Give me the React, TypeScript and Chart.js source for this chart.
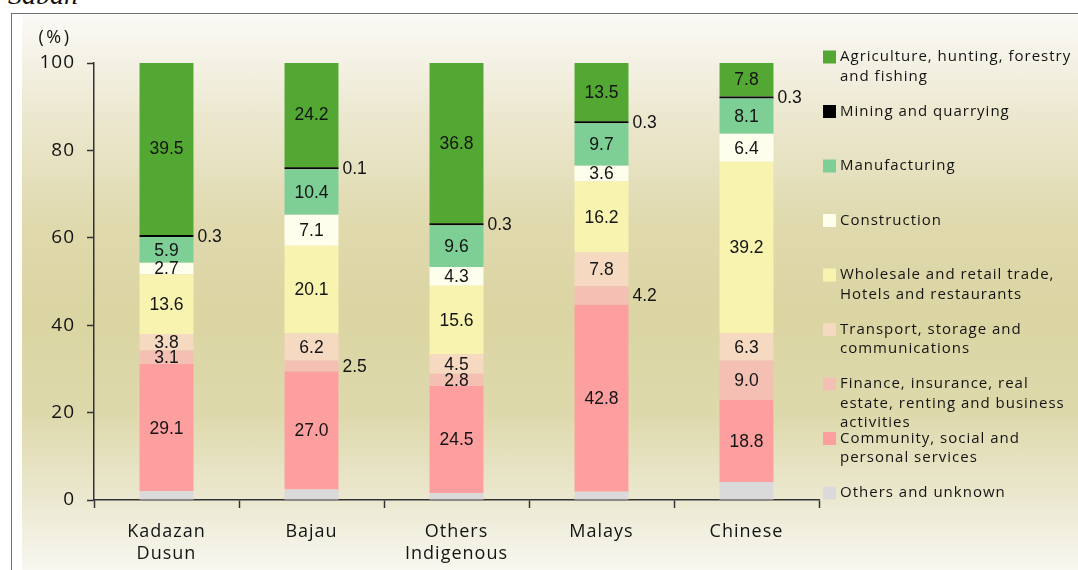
import React, { useEffect, useRef } from "react";
import { Chart, registerables } from "chart.js";

Chart.register(...registerables);

// Ethnic groups along the x axis (multi-line labels)
const groups: string[][] = [
  ["Kadazan", "Dusun"],
  ["Bajau"],
  ["Others", "Indigenous"],
  ["Malays"],
  ["Chinese"],
];

// Share of employment (%) by industry, stacked from the bottom up
const othersUnknown = [2.0, 2.4, 1.6, 1.9, 4.1];
const community = [29.1, 27.0, 24.5, 42.8, 18.8];
const finance = [3.1, 2.5, 2.8, 4.2, 9.0];
const transport = [3.8, 6.2, 4.5, 7.8, 6.3];
const wholesale = [13.6, 20.1, 15.6, 16.2, 39.2];
const construction = [2.7, 7.1, 4.3, 3.6, 6.4];
const manufacturing = [5.9, 10.4, 9.6, 9.7, 8.1];
const mining = [0.3, 0.1, 0.3, 0.3, 0.3];
const agriculture = [39.5, 24.2, 36.8, 13.5, 7.8];

const yTicks = [0, 20, 40, 60, 80, 100];

type LabelMode = "inside" | "outside" | "none";

interface Sector {
  lines: string[];
  values: number[];
  color: string;
  labels: LabelMode[];
}

const IN: LabelMode = "inside";
const OUT: LabelMode = "outside";
const NONE: LabelMode = "none";

const sectors: Sector[] = [
  { lines: ["Others and unknown"], values: othersUnknown, color: "#dadada", labels: [NONE, NONE, NONE, NONE, NONE] },
  { lines: ["Community, social and", "personal services"], values: community, color: "#fd9f9f", labels: [IN, IN, IN, IN, IN] },
  { lines: ["Finance, insurance, real", "estate, renting and business", "activities"], values: finance, color: "#f3c0b3", labels: [IN, OUT, IN, OUT, IN] },
  { lines: ["Transport, storage and", "communications"], values: transport, color: "#f6d9c1", labels: [IN, IN, IN, IN, IN] },
  { lines: ["Wholesale and retail trade,", "Hotels and restaurants"], values: wholesale, color: "#f8f4b0", labels: [IN, IN, IN, IN, IN] },
  { lines: ["Construction"], values: construction, color: "#fefeec", labels: [IN, IN, IN, IN, IN] },
  { lines: ["Manufacturing"], values: manufacturing, color: "#7dcf96", labels: [IN, IN, IN, IN, IN] },
  { lines: ["Mining and quarrying"], values: mining, color: "#000000", labels: [OUT, OUT, OUT, OUT, OUT] },
  { lines: ["Agriculture, hunting, forestry", "and fishing"], values: agriculture, color: "#52a832", labels: [IN, IN, IN, IN, IN] },
];

const UI_FONT = '"Open Sans", "Noto Sans", sans-serif';
const VALUE_FONT = '"Liberation Sans", Arial, sans-serif';
const TEXT_COLOR = "#141414";

// Text spacing used by the axis labels
const spacingPlugin = {
  id: "letterSpacing",
  beforeUpdate(chart: any) {
    chart.ctx.letterSpacing = "1px";
  },
  beforeDraw(chart: any) {
    chart.ctx.letterSpacing = "1px";
  },
};

// Numbers written on (or beside) each stacked segment
const valueLabelPlugin = {
  id: "valueLabels",
  afterDatasetsDraw(chart: any) {
    const ctx = chart.ctx as CanvasRenderingContext2D;
    ctx.save();
    (ctx as any).letterSpacing = "0px";
    ctx.font = `17.5px ${VALUE_FONT}`;
    ctx.fillStyle = TEXT_COLOR;
    ctx.textBaseline = "middle";
    sectors.forEach((s, di) => {
      const meta = chart.getDatasetMeta(di);
      meta.data.forEach((bar: any, i: number) => {
        const mode = s.labels[i];
        if (mode === "none") return;
        const text = s.values[i].toFixed(1);
        const cy = (bar.y + bar.base) / 2;
        if (mode === "inside") {
          ctx.textAlign = "center";
          ctx.fillText(text, bar.x, cy + 1);
        } else {
          ctx.textAlign = "left";
          ctx.fillText(text, bar.x + bar.width / 2 + 4, cy + 1);
        }
      });
    });
    ctx.restore();
  },
};

// Unit caption above the y axis and the legend at the right
const decorPlugin = {
  id: "decor",
  afterDraw(chart: any) {
    const ctx = chart.ctx as CanvasRenderingContext2D;
    const area = chart.chartArea;
    ctx.save();
    ctx.fillStyle = TEXT_COLOR;
    ctx.textBaseline = "middle";
    ctx.textAlign = "center";
    (ctx as any).letterSpacing = "2.5px";
    ctx.font = `18px ${UI_FONT}`;
    ctx.fillText("(%)", area.left - 39, area.top - 25);

    const boxX = area.right + 4;
    const textX = area.right + 21;
    const box = 13;
    const top = 57;
    const step = 54.5;
    const lineGap = 19.5;
    ctx.textAlign = "left";
    (ctx as any).letterSpacing = "1px";
    ctx.font = `15px ${UI_FONT}`;
    const ordered = sectors.slice().reverse();
    ordered.forEach((s, k) => {
      const y0 = top + k * step;
      ctx.fillStyle = s.color;
      ctx.fillRect(boxX, y0 - box / 2, box, box);
      ctx.fillStyle = TEXT_COLOR;
      s.lines.forEach((line, j) => {
        ctx.fillText(line, textX, y0 + j * lineGap);
      });
    });
    ctx.restore();
  },
};

export default function App() {
  const ref = useRef<HTMLCanvasElement>(null);

  useEffect(() => {
    const canvas = ref.current;
    if (!canvas) return;
    const chart = new Chart(canvas, {
      type: "bar",
      data: {
        labels: groups as any,
        datasets: sectors.map((s) => ({
          label: s.lines.join(" "),
          data: s.values,
          backgroundColor: s.color,
          borderWidth: 0,
          minBarLength: 2,
          barPercentage: 0.372,
          categoryPercentage: 1,
        })),
      },
      options: {
        responsive: false,
        animation: false,
        devicePixelRatio: 1,
        layout: { padding: { top: 63, right: 259, left: 0, bottom: 0 } },
        plugins: {
          legend: { display: false },
          tooltip: { enabled: false },
          title: { display: false },
        },
        scales: {
          x: {
            stacked: true,
            offset: true,
            grid: {
              offset: true,
              drawOnChartArea: false,
              drawTicks: true,
              tickLength: 8,
              tickWidth: 1.5,
              tickColor: "#333",
            },
            border: { display: true, color: "#333", width: 1.5 },
            ticks: {
              color: TEXT_COLOR,
              padding: 13,
              maxRotation: 0,
              autoSkip: false,
              font: { family: UI_FONT, size: 18, lineHeight: 1.22 },
            },
            afterFit: (s: any) => {
              s.height = 70;
            },
          },
          y: {
            stacked: true,
            min: 0,
            max: 100,
            afterBuildTicks: (s: any) => {
              s.ticks = yTicks.map((v) => ({ value: v }));
            },
            grid: {
              drawOnChartArea: false,
              drawTicks: true,
              tickLength: 7,
              tickWidth: 1.5,
              tickColor: "#333",
            },
            border: { display: true, color: "#333", width: 1.5 },
            ticks: {
              color: TEXT_COLOR,
              padding: 12,
              font: { family: UI_FONT, size: 19 },
            },
            afterFit: (s: any) => {
              s.width = 94;
            },
          },
        },
      },
      plugins: [spacingPlugin, valueLabelPlugin, decorPlugin],
    });
    return () => chart.destroy();
  }, []);

  return (
    <div
      style={{
        position: "absolute",
        left: 0,
        top: 0,
        width: 1078,
        height: 570,
        overflow: "hidden",
        background: "#ffffff",
      }}
    >
      <div
        style={{
          position: "absolute",
          left: 11,
          top: 13,
          right: -4,
          bottom: -4,
          borderLeft: "1px solid #707070",
          borderTop: "1px solid #707070",
        }}
      />
      <div
        style={{
          position: "absolute",
          left: 22,
          top: 14,
          right: 0,
          bottom: 0,
          background:
            "linear-gradient(to bottom, #fbfaf7 0%, #ece8d0 18%, #dfd9ad 38%, #dbd5a3 55%, #ded9ac 72%, #ece9d2 88%, #f8f7f0 100%)",
        }}
      />
      <div
        style={{
          position: "absolute",
          left: 8,
          top: -19,
          font: 'italic 28px "Liberation Serif", "DejaVu Serif", serif',
          lineHeight: "28px",
          color: "#111",
        }}
      >
        Sabah
      </div>
      <canvas
        ref={ref}
        width={1078}
        height={570}
        style={{ position: "absolute", left: 0, top: 0 }}
      />
    </div>
  );
}
